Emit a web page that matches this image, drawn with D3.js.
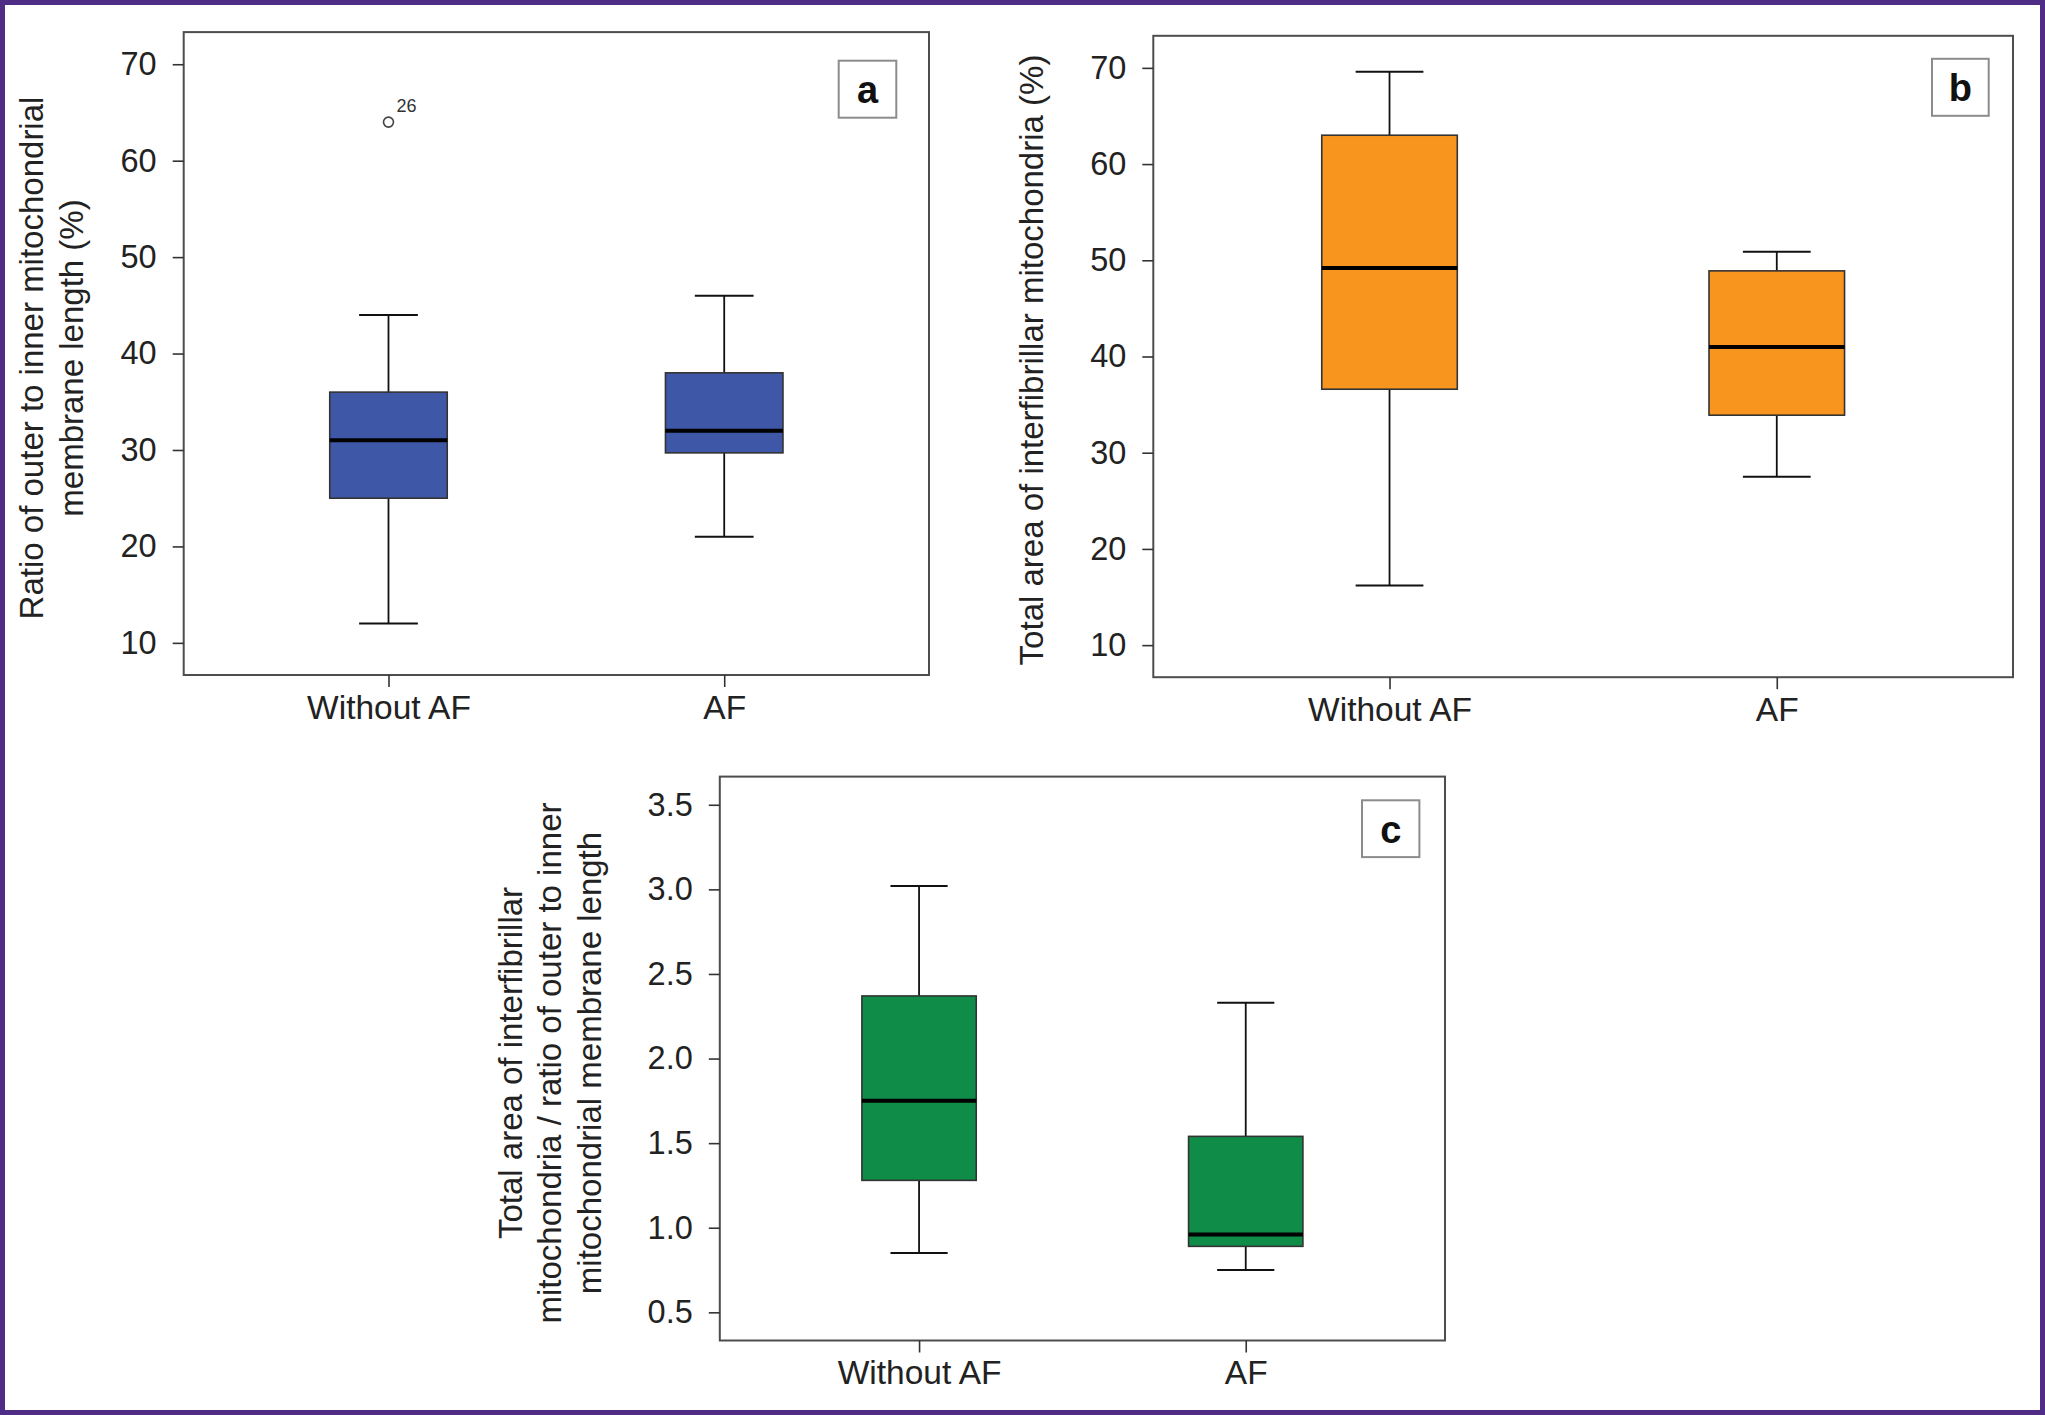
<!DOCTYPE html>
<html>
<head>
<meta charset="utf-8">
<script src="https://cdn.jsdelivr.net/npm/d3@7"></script>
<style>
  body { margin: 0; background: #fff; }
  svg { display: block; font-family: "Liberation Sans", Arial, sans-serif; }
</style>
</head>
<body>
<div id="chart"></div>
<script>
var svgWidth = 2045;
var svgHeight = 1415;

// groups on the x axis (same in every panel)
var groups = ["Without AF", "AF"];

// five-number summaries per group: [whisker low, Q1, median, Q3, whisker high]
var ratioBoxes = [[12, 25, 31, 36, 44], [21, 29.7, 32, 38, 46]];
var areaBoxes = [[16.2, 36.6, 49.2, 63, 69.6], [27.5, 33.9, 41, 48.9, 50.9]];
var quotientBoxes = [[0.85, 1.28, 1.75, 2.37, 3.02], [0.75, 0.89, 0.96, 1.54, 2.33]];

// outliers (panel a only)
var ratioOutliers = [{ group: "Without AF", value: 64, label: "26" }];

// tick values
var percentTicks = [10, 20, 30, 40, 50, 60, 70];
var quotientTicks = [0.5, 1.0, 1.5, 2.0, 2.5, 3.0, 3.5];

var svg = d3.select("#chart")
  .append("svg")
  .attr("width", svgWidth)
  .attr("height", svgHeight);

// purple border round the whole figure
svg.append("rect")
  .attr("x", 2.5)
  .attr("y", 2.5)
  .attr("width", svgWidth - 5)
  .attr("height", svgHeight - 5)
  .attr("fill", "none")
  .attr("stroke", "#4f2c86")
  .attr("stroke-width", 5);

var panels = [
  {
    letter: "a",
    left: 183.7, right: 929, top: 32.1, bottom: 675,
    domain: [6.667, 73.333],
    ticks: percentTicks,
    format: d3.format("d"),
    boxes: ratioBoxes,
    outliers: ratioOutliers,
    color: "#3e57a7",
    title: ["Ratio of outer to inner mitochondrial", "membrane length (%)"],
    titleX: 43.3, titleY: 358,
    labelBox: { x: 838.7, y: 60.7, w: 57.6, h: 57 }
  },
  {
    letter: "b",
    left: 1153.3, right: 2013, top: 35.8, bottom: 677.2,
    domain: [6.667, 73.333],
    ticks: percentTicks,
    format: d3.format("d"),
    boxes: areaBoxes,
    outliers: [],
    color: "#f7951f",
    title: ["Total area of interfibrillar mitochondria (%)"],
    titleX: 1043, titleY: 360,
    labelBox: { x: 1932, y: 58.8, w: 56.7, h: 57 }
  },
  {
    letter: "c",
    left: 719.8, right: 1445, top: 776.6, bottom: 1340.5,
    domain: [0.3335, 3.6665],
    ticks: quotientTicks,
    format: d3.format(".1f"),
    boxes: quotientBoxes,
    outliers: [],
    color: "#0f8c48",
    title: ["Total area of interfibrillar", "mitochondria / ratio of outer to inner", "mitochondrial membrane length"],
    titleX: 521.7, titleY: 1063,
    labelBox: { x: 1362, y: 800.3, w: 57.4, h: 56.8 }
  }
];

panels.forEach(function(p) {
  var g = svg.append("g");

  var xScale = d3.scalePoint()
    .domain(groups)
    .range([p.left, p.right])
    .padding(0.61);

  var yScale = d3.scaleLinear()
    .domain(p.domain)
    .range([p.bottom, p.top]);

  var boxWidth = xScale.step() * 0.35;

  // frame
  g.append("rect")
    .attr("x", p.left)
    .attr("y", p.top)
    .attr("width", p.right - p.left)
    .attr("height", p.bottom - p.top)
    .attr("fill", "none")
    .attr("stroke", "#4d4d4d")
    .attr("stroke-width", 2);

  // y axis
  var leftAxis = d3.axisLeft(yScale)
    .tickValues(p.ticks)
    .tickFormat(p.format)
    .tickSize(11)
    .tickPadding(16);

  var yAxis = g.append("g")
    .attr("transform", `translate(${p.left}, 0)`)
    .call(leftAxis);
  yAxis.select(".domain").remove();
  yAxis.selectAll("line").attr("stroke", "#333").attr("stroke-width", 1.6);
  yAxis.selectAll("text")
    .attr("font-size", 32.5)
    .attr("fill", "#222")
    .style("font-family", "'Liberation Sans', Arial, sans-serif");

  // x axis
  var bottomAxis = d3.axisBottom(xScale)
    .tickSize(12)
    .tickPadding(8);

  var xAxis = g.append("g")
    .attr("transform", `translate(0, ${p.bottom})`)
    .call(bottomAxis);
  xAxis.select(".domain").remove();
  xAxis.selectAll("line").attr("stroke", "#333").attr("stroke-width", 1.6);
  xAxis.selectAll("text")
    .attr("font-size", 33.5)
    .attr("fill", "#222")
    .style("font-family", "'Liberation Sans', Arial, sans-serif");

  // boxes
  var boxes = g.selectAll(".box")
    .data(p.boxes)
    .enter()
    .append("g")
    .attr("class", "box");

  // whisker stems
  boxes.append("line")
    .attr("x1", (d, i) => xScale(groups[i]))
    .attr("x2", (d, i) => xScale(groups[i]))
    .attr("y1", d => yScale(d[4]))
    .attr("y2", d => yScale(d[0]))
    .attr("stroke", "#111")
    .attr("stroke-width", 1.8);

  // whisker caps
  [0, 4].forEach(function(k) {
    boxes.append("line")
      .attr("x1", (d, i) => xScale(groups[i]) - boxWidth / 4)
      .attr("x2", (d, i) => xScale(groups[i]) + boxWidth / 4)
      .attr("y1", d => yScale(d[k]))
      .attr("y2", d => yScale(d[k]))
      .attr("stroke", "#111")
      .attr("stroke-width", 2);
  });

  boxes.append("rect")
    .attr("x", (d, i) => xScale(groups[i]) - boxWidth / 2)
    .attr("y", d => yScale(d[3]))
    .attr("width", boxWidth)
    .attr("height", d => yScale(d[1]) - yScale(d[3]))
    .attr("fill", p.color)
    .attr("stroke", "#333")
    .attr("stroke-width", 1.6);

  // median
  boxes.append("line")
    .attr("x1", (d, i) => xScale(groups[i]) - boxWidth / 2)
    .attr("x2", (d, i) => xScale(groups[i]) + boxWidth / 2)
    .attr("y1", d => yScale(d[2]))
    .attr("y2", d => yScale(d[2]))
    .attr("stroke", "#000")
    .attr("stroke-width", 4);

  // outliers
  var out = g.selectAll(".outlier")
    .data(p.outliers)
    .enter()
    .append("g")
    .attr("class", "outlier");

  out.append("circle")
    .attr("cx", d => xScale(d.group))
    .attr("cy", d => yScale(d.value))
    .attr("r", 5)
    .attr("fill", "#fff")
    .attr("stroke", "#444")
    .attr("stroke-width", 1.6);

  out.append("text")
    .attr("x", d => xScale(d.group) + 8)
    .attr("y", d => yScale(d.value) - 10)
    .attr("font-size", 18)
    .attr("fill", "#333")
    .text(d => d.label);

  // y axis title, one text per line, rotated
  p.title.forEach(function(line, i) {
    g.append("text")
      .attr("transform", `translate(${p.titleX + i * 39.5}, ${p.titleY}) rotate(-90)`)
      .attr("text-anchor", "middle")
      .attr("font-size", 33)
      .attr("fill", "#222")
      .text(line);
  });

  // panel letter
  g.append("rect")
    .attr("x", p.labelBox.x)
    .attr("y", p.labelBox.y)
    .attr("width", p.labelBox.w)
    .attr("height", p.labelBox.h)
    .attr("fill", "#fff")
    .attr("stroke", "#8c8c8c")
    .attr("stroke-width", 2);

  g.append("text")
    .attr("x", p.labelBox.x + p.labelBox.w / 2)
    .attr("y", p.labelBox.y + p.labelBox.h / 2 + 14)
    .attr("text-anchor", "middle")
    .attr("font-size", 38)
    .attr("font-weight", "bold")
    .attr("fill", "#111")
    .text(p.letter);
});
</script>
</body>
</html>
